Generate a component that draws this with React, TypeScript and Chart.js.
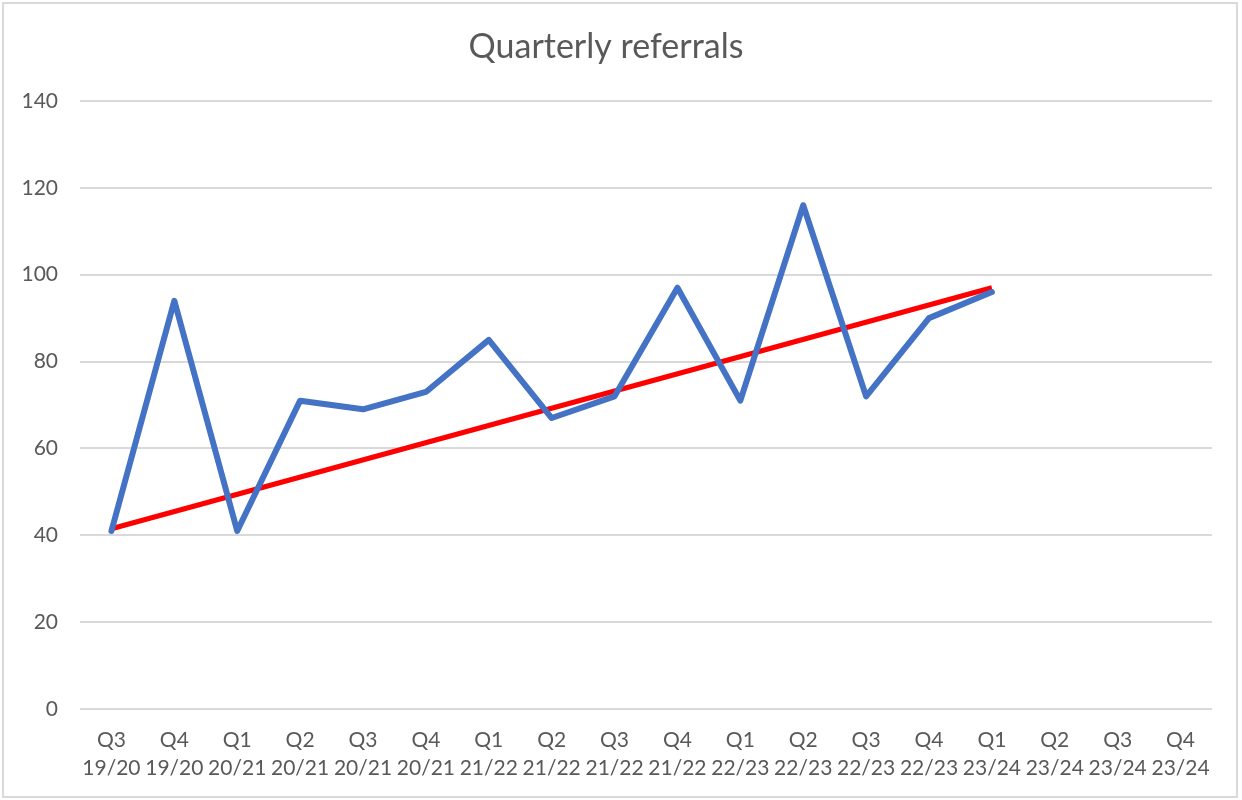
import React, { useEffect, useRef } from "react";
import { Chart, registerables } from "chart.js";

Chart.register(...registerables);

const quarters: string[] = ["Q3", "Q4", "Q1", "Q2", "Q3", "Q4", "Q1", "Q2", "Q3", "Q4", "Q1", "Q2", "Q3", "Q4", "Q1", "Q2", "Q3", "Q4"];
const years: string[] = ["19/20", "19/20", "20/21", "20/21", "20/21", "20/21", "21/22", "21/22", "21/22", "21/22", "22/23", "22/23", "22/23", "22/23", "23/24", "23/24", "23/24", "23/24"];
const referrals: (number | null)[] = [41, 94, 41, 71, 69, 73, 85, 67, 72, 97, 71, 116, 72, 90, 96, null, null, null];
const trend: (number | null)[] = [41.5, null, null, null, null, null, null, null, null, null, null, null, null, null, 97, null, null, null];
const yTicks = { min: 0, max: 140, step: 20 };

const FONT = "Lato, 'Open Sans', sans-serif";
const TEXT = "#595959";

export default function App() {
  const ref = useRef<HTMLCanvasElement | null>(null);
  useEffect(() => {
    document.body.style.margin = "0";
    const labels = quarters.map((q, i) => [q, years[i]]);
    const chart = new Chart(ref.current!, {
      type: "line",
      data: {
        labels,
        datasets: [
          {
            label: "Referrals",
            data: referrals,
            borderColor: "#4472C4",
            borderWidth: 6,
            pointRadius: 0,
            borderJoinStyle: "round",
            borderCapStyle: "round",
            tension: 0,
            fill: false,
          },
          {
            label: "Trend",
            data: trend,
            borderColor: "#FF0000",
            borderWidth: 5,
            pointRadius: 0,
            spanGaps: true,
            borderCapStyle: "butt",
            tension: 0,
            fill: false,
          },
        ],
      },
      options: {
        responsive: false,
        animation: false,
        layout: { padding: { left: 0, right: 30, top: 0, bottom: 0 } },
        plugins: {
          legend: { display: false },
          tooltip: { enabled: false },
          title: {
            display: true,
            text: "Quarterly referrals",
            color: TEXT,
            font: { family: FONT, size: 34, weight: "normal", lineHeight: 1.2 },
            padding: { top: 26.6, bottom: 33.6 },
          },
        },
        scales: {
          x: {
            offset: true,
            grid: { display: false, drawTicks: false },
            border: { display: false },
            ticks: {
              color: TEXT,
              font: { family: FONT, size: 21, lineHeight: 1.333 },
              autoSkip: false,
              maxRotation: 0,
              minRotation: 0,
              padding: 17,
            },
            afterFit: (s: any) => {
              s.height = 91;
            },
          },
          y: {
            min: yTicks.min,
            max: yTicks.max,
            grid: { color: "#d9d9d9", lineWidth: 2, drawTicks: false },
            border: { display: false },
            ticks: {
              stepSize: yTicks.step,
              color: TEXT,
              font: { family: FONT, size: 21 },
              padding: 22,
            },
            afterFit: (s: any) => {
              s.width = 80;
            },
          },
        },
      },
    });
    return () => chart.destroy();
  }, []);
  return (
    <div style={{ position: "relative", width: 1242, height: 800, background: "#fff" }}>
      <canvas ref={ref} width={1242} height={800} style={{ position: "absolute", left: 0, top: 0 }} />
      <div
        style={{
          position: "absolute",
          left: 2,
          top: 2,
          width: 1236,
          height: 796,
          border: "2px solid #d9d9d9",
          boxSizing: "border-box",
          pointerEvents: "none",
        }}
      />
    </div>
  );
}
